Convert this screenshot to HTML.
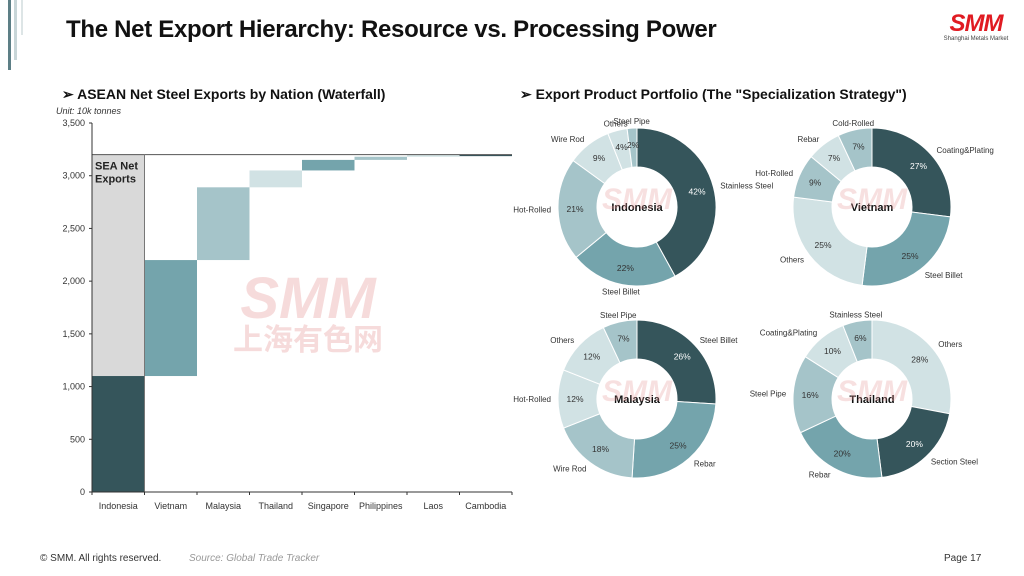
<!DOCTYPE html>
<html><head><meta charset="utf-8">
<style>
html,body{margin:0;padding:0;background:#fff;}
body{width:1024px;height:576px;position:relative;overflow:hidden;font-family:"Liberation Sans","Noto Sans CJK SC",sans-serif;}
.abs{position:absolute;}
</style></head>
<body>
<div class="abs" style="left:8px;top:0;width:3px;height:70px;background:#5d7f86"></div>
<div class="abs" style="left:14px;top:0;width:3px;height:60px;background:#c9d6d8"></div>
<div class="abs" style="left:21px;top:0;width:2px;height:35px;background:#dde5e6"></div>
<div class="abs" style="left:66px;top:16px;font-size:24px;font-weight:bold;color:#111;letter-spacing:-0.3px">The Net Export Hierarchy: Resource vs. Processing Power</div>
<div class="abs" style="left:940px;top:12px;width:72px;text-align:center">
<div style="font-size:24px;font-weight:bold;font-style:italic;color:#e01b22;line-height:24px;letter-spacing:-1px">SMM</div>
<div style="font-size:6px;color:#444">Shanghai Metals Market</div></div>

<svg class="abs" style="left:0;top:0" width="1024" height="576">
<text x="62" y="99" font-size="14" font-weight="bold" fill="#111">➢ ASEAN Net Steel Exports by Nation (Waterfall)</text>
<text x="56" y="114" font-size="9" font-style="italic" fill="#333">Unit: 10k tonnes</text>
<text x="520" y="99" font-size="14" font-weight="bold" fill="#111">➢ Export Product Portfolio (The "Specialization Strategy")</text>
<g id="wf"></g>
<g id="donuts"></g>
<g opacity="0.35">
<text x="308" y="318" font-size="58" font-weight="bold" font-style="italic" fill="#e89a9a" text-anchor="middle">SMM</text>
<text x="308" y="350" font-size="30" font-weight="bold" fill="#e89a9a" text-anchor="middle" font-family="Noto Sans CJK SC">上海有色网</text>
</g>
</svg>

<div class="abs" style="left:40px;top:553px;font-size:10px;color:#333">© SMM. All rights reserved.</div>
<div class="abs" style="left:189px;top:553px;font-size:10px;color:#999;font-style:italic">Source: Global Trade Tracker</div>
<div class="abs" style="left:944px;top:553px;font-size:10px;color:#333">Page 17</div>

<script>
const NS='http://www.w3.org/2000/svg';
function mk(t,a,p,txt){const e=document.createElementNS(NS,t);for(const k in a)e.setAttribute(k,a[k]);if(txt!==undefined)e.textContent=txt;p.appendChild(e);return e;}

// Waterfall data
const wfCategories=['Indonesia','Vietnam','Malaysia','Thailand','Singapore','Philippines','Laos','Cambodia'];
const wfValues=[1100,1100,690,160,100,30,15,5];
const wfTicks=[0,500,1000,1500,2000,2500,3000,3500];
const wfTickLabels=['0','500','1,000','1,500','2,000','2,500','3,000','3,500'];
const wfColors=['#35555b','#74a4ac','#a5c4c9','#d1e2e4','#74a4ac','#a5c4c9','#d1e2e4','#35555b'];

const X0=92,X1=512,Y0=492,Y1=123,YMAX=3500;
const y=v=>Y0-(v/YMAX)*(Y0-Y1);
const bw=(X1-X0)/wfCategories.length;
const x=i=>X0+i*bw;
const wf=document.getElementById('wf');
const total=wfValues.reduce((a,b)=>a+b,0);
let b;
b=mk('rect',{x:x(0),y:y(total),width:bw,height:y(wfValues[0])-y(total),fill:'#d9d9d9'},wf);


let cum=0;
wfValues.forEach((v,i)=>{
  const r=mk('rect',{x:x(i),y:y(cum+v),width:bw,height:Math.max(y(cum)-y(cum+v),1.5),fill:wfColors[i]},wf);
  
  
  cum+=v;
});
mk('line',{x1:X0,x2:X1,y1:y(total),y2:y(total),stroke:'#555','stroke-width':1},wf);
mk('line',{x1:x(1),x2:x(1),y1:y(total),y2:Y0,stroke:'#777','stroke-width':1},wf);
let t=mk('text',{x:x(0)+3,y:y(total)+15,'font-size':11,'font-weight':'bold',fill:'#222'},wf,'SEA Net');


mk('text',{x:x(0)+3,y:y(total)+28,'font-size':11,'font-weight':'bold',fill:'#222'},wf,'Exports');
mk('line',{x1:X0,x2:X0,y1:Y1,y2:Y0,stroke:'#333'},wf);
mk('line',{x1:X0,x2:X1,y1:Y0,y2:Y0,stroke:'#333'},wf);
wfTicks.forEach((v,i)=>{
  mk('line',{x1:X0-3,x2:X0,y1:y(v),y2:y(v),stroke:'#333'},wf);
  const l=mk('text',{x:X0-7,y:y(v)+3,'font-size':9,fill:'#333','text-anchor':'end'},wf,wfTickLabels[i]);
  
  
});
wfCategories.forEach((c,i)=>{
  mk('line',{x1:x(i),x2:x(i),y1:Y0,y2:Y0+3,stroke:'#333'},wf);
  const l=mk('text',{x:x(i)+bw/2,y:Y0+17,'font-size':9,fill:'#333','text-anchor':'middle'},wf,c);
  
  
});
mk('line',{x1:X1,x2:X1,y1:Y0,y2:Y0+3,stroke:'#333'},wf);

// Donut data
const idnLabels=['Stainless Steel','Steel Billet','Hot-Rolled','Wire Rod','Others','Steel Pipe'];
const idnValues=[42,22,21,9,4,2];
const vnmLabels=['Coating&Plating','Steel Billet','Others','Hot-Rolled','Rebar','Cold-Rolled'];
const vnmValues=[27,25,25,9,7,7];
const mysLabels=['Steel Billet','Rebar','Wire Rod','Hot-Rolled','Others','Steel Pipe'];
const mysValues=[26,25,18,12,12,7];
const thaLabels=['Others','Section Steel','Rebar','Steel Pipe','Coating&Plating','Stainless Steel'];
const thaValues=[28,20,20,16,10,6];
const C1='#35555b',C2='#74a4ac',C3='#a5c4c9',C4='#d1e2e4';
const donuts=[
 {name:'Indonesia',cx:637,cy:207,labels:idnLabels,values:idnValues,colors:[C1,C2,C3,C4,C4,C3]},
 {name:'Vietnam',cx:872,cy:207,labels:vnmLabels,values:vnmValues,colors:[C1,C2,C4,C3,C4,C3]},
 {name:'Malaysia',cx:637,cy:399,labels:mysLabels,values:mysValues,colors:[C1,C2,C3,C4,C4,C3]},
 {name:'Thailand',cx:872,cy:399,labels:thaLabels,values:thaValues,colors:[C4,C1,C2,C3,C4,C3]}
];
const RO=79,RI=40;
const dg=document.getElementById('donuts');
donuts.forEach(d=>{
  const g=mk('g',{},dg);
  
  
  const sum=d.values.reduce((a,b)=>a+b,0);
  let a0=0;
  d.values.forEach((v,i)=>{
    const a1=a0+v/sum*2*Math.PI;
    const p=(r,a)=>[d.cx+r*Math.sin(a),d.cy-r*Math.cos(a)];
    const [x1,y1]=p(RO,a0),[x2,y2]=p(RO,a1),[x3,y3]=p(RI,a1),[x4,y4]=p(RI,a0);
    const lg=(a1-a0)>Math.PI?1:0;
    const s=mk('path',{d:`M${x1},${y1}A${RO},${RO} 0 ${lg} 1 ${x2},${y2}L${x3},${y3}A${RI},${RI} 0 ${lg} 0 ${x4},${y4}Z`,fill:d.colors[i],stroke:'#fff','stroke-width':1},g);
    
    
    const am=(a0+a1)/2;
    const [px,py]=p(62,am);
    mk('text',{x:px,y:py+3,'font-size':8.5,fill:d.colors[i]===C1?'#fff':'#333','text-anchor':'middle'},g,v+'%');
    const [lx,ly]=p(86,am);
    const sn=Math.sin(am);
    const anc=sn>0.25?'start':(sn<-0.25?'end':'middle');
    const lab=mk('text',{x:lx,y:ly+3,'font-size':8,fill:'#333','text-anchor':anc},g,d.labels[i]);
    
    
    a0=a1;
  });
  mk('text',{x:d.cx,y:d.cy+4,'font-size':11,'font-weight':'bold',fill:'#111','text-anchor':'middle'},g,d.name);
  mk('text',{x:d.cx,y:d.cy+2,'font-size':30,'font-weight':'bold','font-style':'italic',fill:'#e89a9a',opacity:0.3,'text-anchor':'middle'},g,'SMM');
});
</script>
</body></html>
